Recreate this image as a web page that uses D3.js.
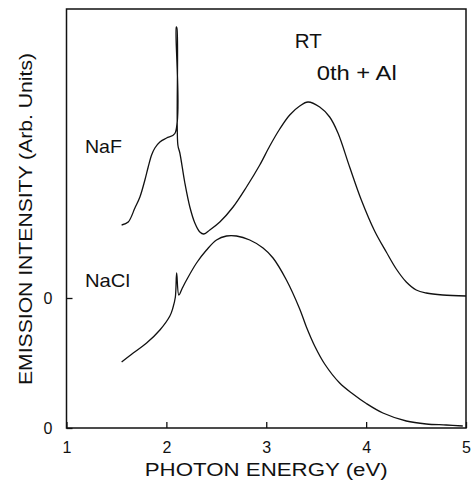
<!DOCTYPE html>
<html>
<head>
<meta charset="utf-8">
<script src="https://cdn.jsdelivr.net/npm/d3@7"></script>
<style>
  html, body { margin: 0; padding: 0; background: #fff; }
  svg { display: block; }
  text { font-family: "Liberation Sans", Arial, Helvetica, sans-serif; fill: #111; }
</style>
</head>
<body>
<svg id="chart" width="471" height="483"></svg>
<script>
// ---- data (photon energy in eV, emission intensity in arbitrary units) ----
const nafEnergy = [1.552, 1.618, 1.685, 1.735, 1.785, 1.818, 1.852, 1.885, 1.935, 2.002, 2.085,
  2.098, 2.105, 2.115, 2.135, 2.185, 2.235, 2.285, 2.335, 2.375, 2.435, 2.535, 2.668, 2.802,
  2.935, 3.035, 3.135, 3.235, 3.335, 3.418, 3.535, 3.635, 3.718, 3.835, 3.952, 4.085,
  4.202, 4.302, 4.402, 4.502, 4.602, 4.768, 5.0];
const nafIntensity = [0.73, 0.76, 0.90, 1.01, 1.18, 1.31, 1.43, 1.50, 1.56, 1.60, 1.645,
  2.71, 2.70, 1.53, 1.45, 1.15, 0.91, 0.75, 0.66, 0.64, 0.68, 0.76, 0.91, 1.11,
  1.33, 1.52, 1.69, 1.83, 1.92, 1.96, 1.91, 1.81, 1.65, 1.31, 0.98, 0.67,
  0.46, 0.29, 0.16, 0.08, 0.05, 0.03, 0.02];

const naclEnergy = [1.552, 1.668, 1.802, 1.935, 2.035, 2.065, 2.09, 2.103, 2.125, 2.16, 2.202, 2.302,
  2.402, 2.502, 2.602, 2.702, 2.835, 2.968, 3.068, 3.202, 3.335, 3.402, 3.485, 3.585, 3.735,
  3.868, 4.002, 4.168, 4.402, 4.602, 4.802, 4.968];
const naclIntensity = [0.66, 0.75, 0.85, 0.98, 1.12, 1.20, 1.31, 1.55, 1.33, 1.40, 1.48, 1.65,
  1.78, 1.88, 1.92, 1.92, 1.88, 1.80, 1.70, 1.48, 1.19, 1.01, 0.82, 0.64, 0.45,
  0.34, 0.245, 0.15, 0.07, 0.04, 0.03, 0.02];

// vertical offset of the NaF trace (its own zero line)
const nafOffset = 1.30;

const xTickValues = [1, 2, 3, 4, 5];
const xTickLabels = ["1", "2", "3", "4", "5"];
const yTickValues = [0, nafOffset];
const yTickLabels = ["0", "0"];

const xTitle = "PHOTON ENERGY (eV)";
const yTitle = "EMISSION INTENSITY (Arb. Units)";

// annotations: [text, energy, intensity(baseline), fontSize, textLength]
const annotations = [
  ["NaF", 1.185, 2.75, 19, 37],
  ["NaCl", 1.185, 1.41, 19, 45],
  ["RT", 3.285, 3.80, 20, 27],
  ["0th + Al", 3.505, 3.48, 20, 80]
];

// ---- layout ----
const svg = d3.select("#chart");
const mLeft = 66.5, mRight = 466, mTop = 9, mBottom = 428;

const x = d3.scaleLinear().domain([1, 5]).range([mLeft, mRight]);
const y = d3.scaleLinear().domain([0, 4.19]).range([mBottom, mTop]);

// frame
svg.append("rect")
  .attr("x", mLeft).attr("y", mTop)
  .attr("width", mRight - mLeft).attr("height", mBottom - mTop)
  .attr("fill", "none").attr("stroke", "#111").attr("stroke-width", 1.5);

// x axis
const xAxis = d3.axisBottom(x)
  .tickValues(xTickValues)
  .tickFormat((d, i) => xTickLabels[i])
  .tickSizeInner(-6).tickSizeOuter(0).tickPadding(14);
const gx = svg.append("g").attr("transform", `translate(0,${mBottom})`).call(xAxis);
gx.select(".domain").remove();
gx.selectAll(".tick line").attr("stroke", "#111").attr("stroke-width", 1.3);
gx.selectAll(".tick text").attr("font-size", 16).attr("fill", "#111")
  .style("font-family", "'Liberation Sans', Arial, sans-serif");

// y axis
const yAxis = d3.axisLeft(y)
  .tickValues(yTickValues)
  .tickFormat((d, i) => yTickLabels[i])
  .tickSizeInner(-6).tickSizeOuter(0).tickPadding(14);
const gy = svg.append("g").attr("transform", `translate(${mLeft},0)`).call(yAxis);
gy.select(".domain").remove();
gy.selectAll(".tick line").attr("stroke", "#111").attr("stroke-width", 1.3);
gy.selectAll(".tick text").attr("font-size", 16).attr("fill", "#111")
  .style("font-family", "'Liberation Sans', Arial, sans-serif");

// axis titles
svg.append("text")
  .attr("x", (mLeft + mRight) / 2).attr("y", 476)
  .attr("text-anchor", "middle")
  .attr("font-size", 18)
  .attr("textLength", 243).attr("lengthAdjust", "spacingAndGlyphs")
  .text(xTitle);

svg.append("text")
  .attr("transform", "translate(32,219) rotate(-90)")
  .attr("text-anchor", "middle")
  .attr("font-size", 18.5)
  .attr("textLength", 332).attr("lengthAdjust", "spacingAndGlyphs")
  .text(yTitle);

// curves
const line = d3.line()
  .x(d => x(d[0]))
  .y(d => y(d[1]))
  .curve(d3.curveCatmullRom.alpha(0.5));

const nafData = nafEnergy.map((e, i) => [e, nafIntensity[i] + nafOffset]);
const naclData = naclEnergy.map((e, i) => [e, naclIntensity[i]]);

svg.append("path").datum(nafData)
  .attr("d", line).attr("fill", "none")
  .attr("stroke", "#111").attr("stroke-width", 1.3).attr("stroke-linejoin", "round");

svg.append("path").datum(naclData)
  .attr("d", line).attr("fill", "none")
  .attr("stroke", "#111").attr("stroke-width", 1.3).attr("stroke-linejoin", "round");

// annotations
annotations.forEach(([t, e, v, fs, tl]) => {
  svg.append("text")
    .attr("x", x(e)).attr("y", y(v))
    .attr("font-size", fs)
    .attr("textLength", tl).attr("lengthAdjust", "spacingAndGlyphs")
    .text(t);
});
</script>
</body>
</html>
